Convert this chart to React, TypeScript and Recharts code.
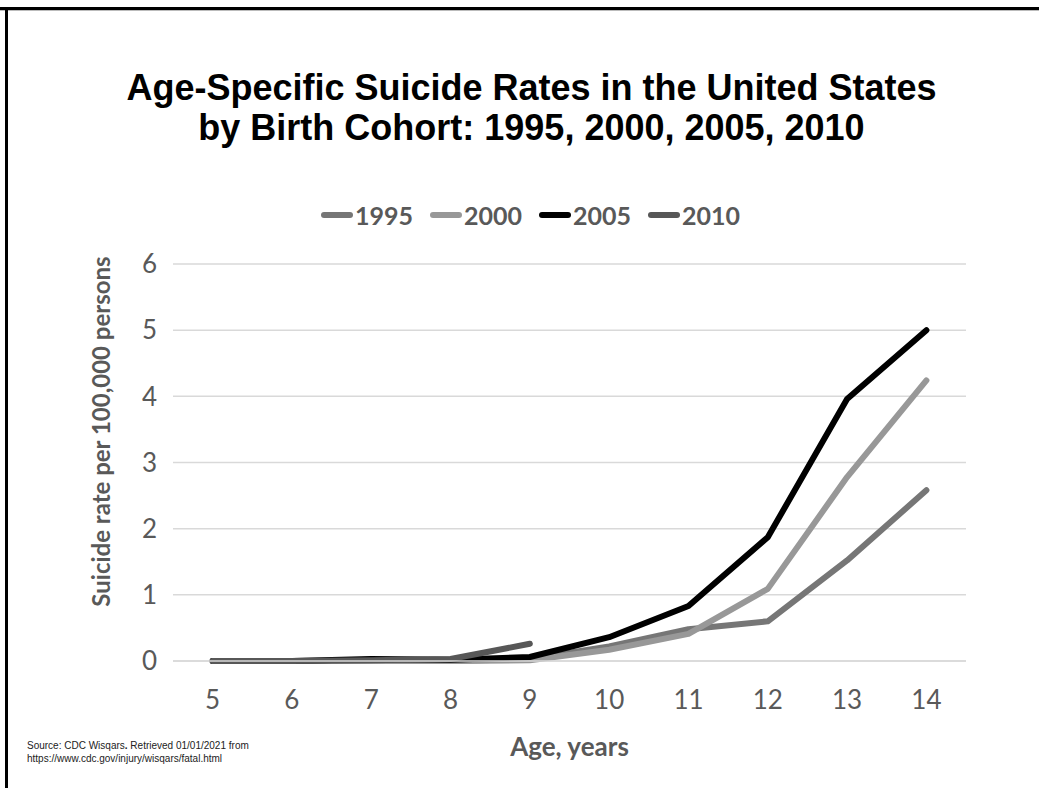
import { LineChart, Line, XAxis, YAxis, CartesianGrid, Legend, Label } from "recharts";

const ages = [5, 6, 7, 8, 9, 10, 11, 12, 13, 14];
const cohort1995 = [0, 0, 0, 0, 0.03, 0.22, 0.48, 0.6, 1.52, 2.58];
const cohort2000 = [0, 0, 0, 0, 0.01, 0.17, 0.41, 1.09, 2.78, 4.24];
const cohort2005 = [0, 0, 0.03, 0.02, 0.06, 0.36, 0.83, 1.87, 3.96, 5.0];
const cohort2010 = [0, 0, 0.01, 0.03, 0.26, null, null, null, null, null];
const yTicks = [0, 1, 2, 3, 4, 5, 6];

const data = ages.map((age, i) => ({
  age,
  c1995: cohort1995[i],
  c2000: cohort2000[i],
  c2005: cohort2005[i],
  c2010: cohort2010[i],
}));

const GREY_TEXT = "#595959";
const TICK_FONT = "Lato, 'Open Sans', sans-serif";

function renderLegend(props: any) {
  const { payload } = props;
  return (
    <div style={{ display: "flex", alignItems: "center", gap: 17 }}>
      {(payload || []).map((p: any) => (
        <div key={p.value} style={{ display: "flex", alignItems: "center" }}>
          <div style={{ width: 32, height: 6, borderRadius: 3, background: p.color, marginRight: 2 }} />
          <span style={{ fontFamily: TICK_FONT, fontWeight: 700, fontSize: 25, color: GREY_TEXT, lineHeight: "30px" }}>
            {p.value}
          </span>
        </div>
      ))}
    </div>
  );
}

export default function App() {
  return (
    <div style={{ position: "absolute", left: 0, top: 0, width: 1039, height: 788, background: "#fff", overflow: "hidden" }}>
      {/* slide frame */}
      <div style={{ position: "absolute", left: 0, top: 7, width: 1039, height: 3, background: "#000" }} />
      <div style={{ position: "absolute", left: 0, top: 10, width: 1039, height: 1, background: "#bbb" }} />
      <div style={{ position: "absolute", left: 5, top: 7, width: 3, height: 781, background: "#000" }} />

      <div
        style={{
          position: "absolute",
          left: 12,
          top: 68,
          width: 1039,
          textAlign: "center",
          fontFamily: "'Liberation Sans', Arial, sans-serif",
          fontWeight: 700,
          fontSize: 36,
          lineHeight: "40px",
          color: "#000",
        }}
      >
        Age-Specific Suicide Rates in the United States
        <br />
        by Birth Cohort: 1995, 2000, 2005, 2010
      </div>

      <LineChart width={1039} height={788} data={data} margin={{ top: 264, right: 73, bottom: 67, left: 113 }}>
        <CartesianGrid vertical={false} stroke="#d9d9d9" strokeWidth={1.5} />
        <XAxis
          dataKey="age"
          type="category"
          height={60}
          padding={{ left: 39.6, right: 39.6 }}
          axisLine={{ stroke: "#d9d9d9", strokeWidth: 1.5 }}
          tickLine={false}
          tickSize={0}
          tickMargin={30}
          tick={{ fontFamily: TICK_FONT, fontSize: 26, fill: GREY_TEXT }}
        >
          <Label
            content={(p: any) => {
              const vb = p.viewBox || {};
              return (
                <text
                  x={vb.x + vb.width / 2}
                  y={vb.y + 95}
                  textAnchor="middle"
                  fontFamily={TICK_FONT}
                  fontWeight={700}
                  fontSize={26}
                  fill={GREY_TEXT}
                >
                  Age, years
                </text>
              );
            }}
          />
        </XAxis>
        <YAxis
          width={60}
          domain={[0, 6]}
          ticks={yTicks}
          axisLine={false}
          tickLine={false}
          tickSize={0}
          tickMargin={16}
          tick={{ fontFamily: TICK_FONT, fontSize: 26, fill: GREY_TEXT }}
        >
          <Label
            content={(p: any) => {
              const vb = p.viewBox || {};
              const cx = vb.x - 3;
              const cy = vb.y + vb.height / 2 - 31;
              return (
                <text
                  x={cx}
                  y={cy}
                  transform={`rotate(-90, ${cx}, ${cy})`}
                  textAnchor="middle"
                  fontFamily={TICK_FONT}
                  fontWeight={700}
                  fontSize={24}
                  fill={GREY_TEXT}
                >
                  Suicide rate per 100,000 persons
                </text>
              );
            }}
          />
        </YAxis>
        <Legend
          verticalAlign="middle"
          align="center"
          layout="horizontal"
          content={renderLegend}
          wrapperStyle={{ top: 200, left: 321, width: "auto", height: 30 }}
        />
        <Line dataKey="c1995" name="1995" stroke="#767676" strokeWidth={6} dot={false} strokeLinecap="round" strokeLinejoin="round" isAnimationActive={false} />
        <Line dataKey="c2000" name="2000" stroke="#989898" strokeWidth={6} dot={false} strokeLinecap="round" strokeLinejoin="round" isAnimationActive={false} />
        <Line dataKey="c2005" name="2005" stroke="#000000" strokeWidth={6} dot={false} strokeLinecap="round" strokeLinejoin="round" isAnimationActive={false} />
        <Line dataKey="c2010" name="2010" stroke="#575757" strokeWidth={6} dot={false} strokeLinecap="round" strokeLinejoin="round" isAnimationActive={false} />
      </LineChart>

      <div
        style={{
          position: "absolute",
          left: 27,
          top: 739,
          fontFamily: "'Liberation Sans', Arial, sans-serif",
          fontSize: 10,
          lineHeight: "13px",
          color: "#222",
        }}
      >
        Source: CDC Wisqars<b>.</b> Retrieved 01/01/2021 from
        <br />
        https://www.cdc.gov/injury/wisqars/fatal.html
      </div>
    </div>
  );
}
